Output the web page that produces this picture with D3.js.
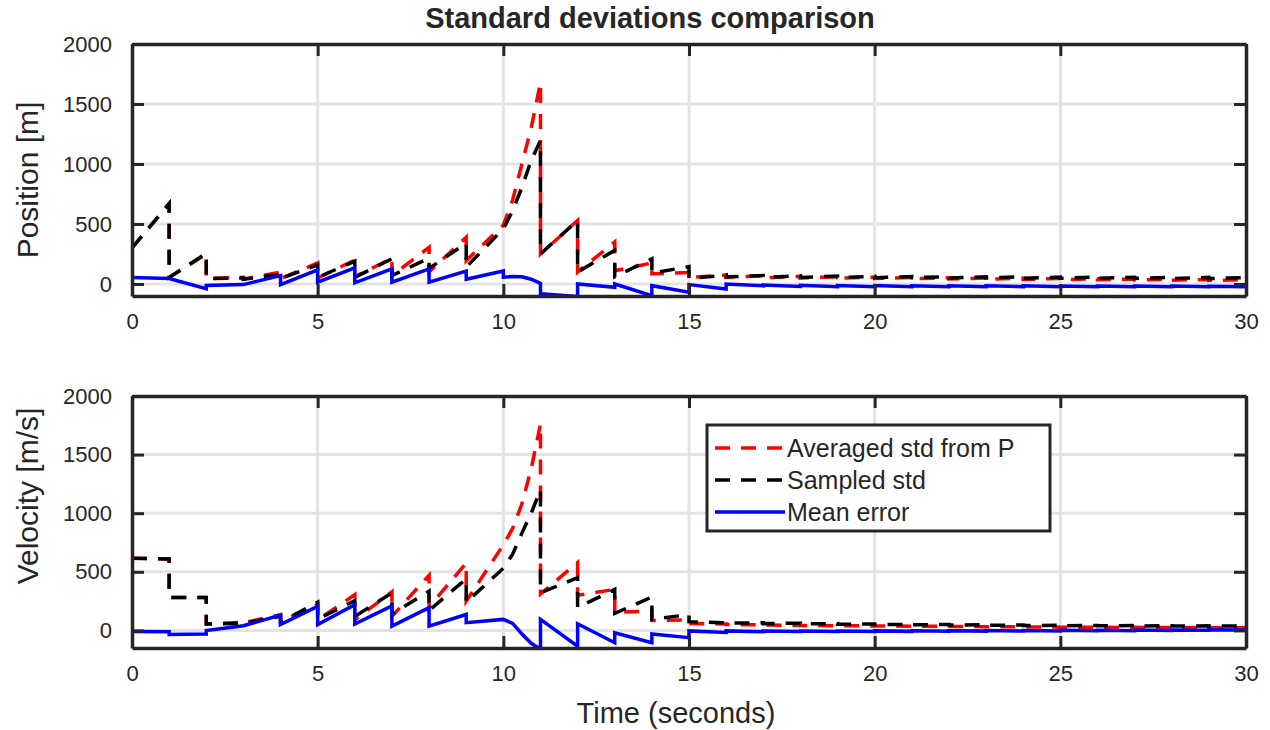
<!DOCTYPE html>
<html>
<head>
<meta charset="utf-8">
<script src="https://cdn.jsdelivr.net/npm/d3@7"></script>
<style>
  body { margin: 0; background: #fff; }
  svg { display: block; }
  text { font-family: "Liberation Sans", Arial, sans-serif; fill: #262626; }
</style>
</head>
<body>
<div class="chart"></div>
<script>
// update instants (s) and the extra points used to follow the curved 10-11 s interval
const stepTimes = [0, 1, 2, 3, 4, 5, 6, 7, 8, 9, 10, 11, 12, 13, 14, 15, 16, 17, 18, 19, 20, 21, 22, 23, 24, 25, 26, 27, 28, 29, 30];
const peakStep = 10;
const peakTimes = [10.25, 10.5, 10.75];

// each entry: [value just after update at t=k, value just before update at t=k+1]
const posAvg = [[300, 670], [55, 250], [45, 55], [40, 100], [45, 175], [50, 200], [60, 215], [70, 305], [100, 390], [195, 490],
  [490, 1680], [250, 530], [100, 350], [110, 175], [85, 95], [55, 75], [55, 68], [52, 64], [50, 60], [48, 58],
  [46, 55], [44, 52], [42, 50], [40, 48], [38, 46], [36, 44], [35, 42], [34, 40], [32, 38], [30, 36]];
const posAvgPeak = [700, 1000, 1300];

const posSampled = [[300, 670], [55, 255], [45, 50], [40, 80], [45, 160], [55, 190], [55, 210], [70, 215], [130, 340], [140, 460],
  [460, 1195], [250, 530], [100, 280], [60, 210], [90, 145], [45, 75], [60, 70], [55, 68], [55, 66], [54, 64],
  [52, 62], [52, 62], [50, 60], [50, 60], [48, 58], [48, 58], [47, 56], [46, 55], [46, 55], [45, 54]];
const posSampledPeak = [610, 805, 1030];

const posMean = [[55, 45], [45, -40], [-12, -5], [-5, 70], [-5, 118], [15, 135], [10, 126], [15, 126], [15, 108], [40, 108],
  [57, 5], [-82, -105], [0, -28], [0, -97], [-14, -69], [-5, -42], [0, -15], [-8, -20], [-10, -22], [-12, -22],
  [-12, -22], [-14, -22], [-14, -22], [-15, -22], [-15, -22], [-16, -22], [-16, -22], [-17, -22], [-17, -22], [-18, -22]];
const posMeanPeak = [62, 60, 40];

const velAvg = [[615, 610], [280, 280], [55, 70], [65, 135], [75, 220], [90, 305], [90, 330], [120, 470], [200, 575], [250, 730],
  [730, 1760], [310, 580], [300, 350], [155, 165], [85, 90], [60, 55], [50, 48], [46, 44], [42, 40], [40, 38],
  [38, 36], [36, 34], [34, 32], [32, 30], [30, 28], [28, 26], [27, 25], [26, 24], [25, 23], [24, 22]];
const velAvgPeak = [870, 1080, 1380];

const velSampled = [[615, 610], [280, 280], [55, 60], [60, 120], [70, 240], [95, 255], [120, 320], [140, 335], [170, 440], [240, 530],
  [530, 1200], [320, 450], [195, 350], [145, 285], [95, 135], [75, 65], [62, 65], [58, 62], [55, 58], [52, 55],
  [50, 52], [48, 50], [46, 48], [44, 46], [42, 44], [40, 42], [39, 41], [38, 40], [37, 39], [36, 38]];
const velSampledPeak = [650, 830, 1000];

const velMean = [[-10, -12], [-35, -30], [0, 40], [40, 130], [50, 205], [50, 220], [55, 210], [37, 195], [37, 136], [66, 94],
  [94, -160], [94, -135], [57, -105], [-20, -105], [-30, -62], [-4, -18], [-4, -12], [-6, -10], [-6, -10], [-5, -9],
  [-4, -8], [-3, -7], [-2, -6], [-1, -5], [0, -4], [1, -3], [2, -2], [3, 0], [4, 2], [5, 4]];
const velMeanPeak = [60, -30, -110];

const xTicks = [0, 5, 10, 15, 20, 25, 30];
const yTicks = [0, 500, 1000, 1500, 2000];
const legendNames = ["Averaged std from P", "Sampled std", "Mean error"];

const width = 1270, height = 730;
const left = 132, right = 1246;
const axisColor = "#262626";

const svg = d3.select(".chart").append("svg")
  .attr("width", width)
  .attr("height", height);

const x = d3.scaleLinear().domain([0, 30]).range([left, right]);

function buildPoints(pairs, peak) {
  const pts = [];
  pairs.forEach((p, k) => {
    pts.push([stepTimes[k], p[0]]);
    if (k === peakStep) peakTimes.forEach((t, i) => pts.push([t, peak[i]]));
    pts.push([stepTimes[k + 1], p[1]]);
  });
  return pts;
}

const seriesStyle = [
  { color: "#ff0000", dash: "15,11" },
  { color: "#000000", dash: "15,11" },
  { color: "#0000ff", dash: null }
];

const panels = [
  { top: 44, bottom: 296, domain: [-100, 2000], label: "Position [m]", labelY: 180,
    data: [[posAvg, posAvgPeak], [posSampled, posSampledPeak], [posMean, posMeanPeak]] },
  { top: 396, bottom: 648, domain: [-150, 2000], label: "Velocity [m/s]", labelY: 496,
    data: [[velAvg, velAvgPeak], [velSampled, velSampledPeak], [velMean, velMeanPeak]] }
];

panels.forEach((pan, idx) => {
  const y = d3.scaleLinear().domain(pan.domain).range([pan.bottom, pan.top]);
  const g = svg.append("g");

  // grid
  g.append("g").selectAll("line.vg")
    .data(xTicks.slice(1, -1))
    .enter().append("line")
    .attr("x1", d => x(d)).attr("x2", d => x(d))
    .attr("y1", pan.top).attr("y2", pan.bottom)
    .attr("stroke", "#e3e3e3").attr("stroke-width", 3);
  g.append("g").selectAll("line.hg")
    .data(yTicks.filter(d => d < pan.domain[1]))
    .enter().append("line")
    .attr("x1", left).attr("x2", right)
    .attr("y1", d => y(d)).attr("y2", d => y(d))
    .attr("stroke", "#e3e3e3").attr("stroke-width", 3);

  // clip
  const clipId = "clip" + idx;
  svg.append("clipPath").attr("id", clipId)
    .append("rect")
    .attr("x", left).attr("y", pan.top)
    .attr("width", right - left).attr("height", pan.bottom - pan.top);

  const line = d3.line().x(d => x(d[0])).y(d => y(d[1]));

  g.append("g").attr("clip-path", `url(#${clipId})`)
    .selectAll("path")
    .data(pan.data)
    .enter().append("path")
    .attr("d", d => line(buildPoints(d[0], d[1])))
    .attr("fill", "none")
    .attr("stroke", (d, i) => seriesStyle[i].color)
    .attr("stroke-width", 3.5)
    .attr("stroke-dasharray", (d, i) => seriesStyle[i].dash);

  // axes (ticks point inward, box on)
  const styleAxis = sel => {
    sel.selectAll("path").attr("stroke", axisColor).attr("stroke-width", 3.5);
    sel.selectAll("line").attr("stroke", axisColor).attr("stroke-width", 3);
    sel.selectAll("text").attr("fill", axisColor)
      .style("font-size", "22px").style("font-family", '"Liberation Sans", Arial, sans-serif');
  };

  g.append("g").attr("transform", `translate(0,${pan.bottom})`)
    .call(d3.axisBottom(x).tickValues(xTicks).tickSize(-12).tickSizeOuter(0).tickPadding(17))
    .call(styleAxis);
  g.append("g").attr("transform", `translate(0,${pan.top})`)
    .call(d3.axisTop(x).tickValues(xTicks).tickSize(-12).tickSizeOuter(0).tickFormat(""))
    .call(styleAxis);
  g.append("g").attr("transform", `translate(${left},0)`)
    .call(d3.axisLeft(y).tickValues(yTicks).tickSize(-12).tickSizeOuter(0).tickPadding(20).tickFormat(d3.format("d")))
    .call(styleAxis);
  g.append("g").attr("transform", `translate(${right},0)`)
    .call(d3.axisRight(y).tickValues(yTicks).tickSize(-12).tickSizeOuter(0).tickFormat(""))
    .call(styleAxis);

  g.append("text")
    .attr("transform", `translate(27,${pan.labelY}) rotate(-90)`)
    .attr("text-anchor", "middle")
    .attr("dy", "0.35em")
    .style("font-size", "30px")
    .text(pan.label);

  if (idx === 1) {
    const lg = g.append("g").attr("transform", "translate(707,425)");
    lg.append("rect")
      .attr("width", 343).attr("height", 106)
      .attr("fill", "#fff").attr("stroke", axisColor).attr("stroke-width", 3);
    legendNames.forEach((name, i) => {
      const ly = 23 + i * 32;
      lg.append("line")
        .attr("x1", 8).attr("x2", 78).attr("y1", ly).attr("y2", ly)
        .attr("stroke", seriesStyle[i].color).attr("stroke-width", 3.5)
        .attr("stroke-dasharray", seriesStyle[i].dash);
      lg.append("text")
        .attr("x", 80).attr("y", ly).attr("dy", "0.35em")
        .style("font-size", "25px")
        .text(name);
    });
  }
});

svg.append("text")
  .attr("x", 650).attr("y", 18)
  .attr("text-anchor", "middle")
  .attr("dy", "0.35em")
  .style("font-size", "29px")
  .style("font-weight", "bold")
  .attr("fill", "#000")
  .text("Standard deviations comparison");

svg.append("text")
  .attr("x", 676).attr("y", 713)
  .attr("text-anchor", "middle")
  .attr("dy", "0.35em")
  .style("font-size", "29px")
  .text("Time (seconds)");
</script>
</body>
</html>
